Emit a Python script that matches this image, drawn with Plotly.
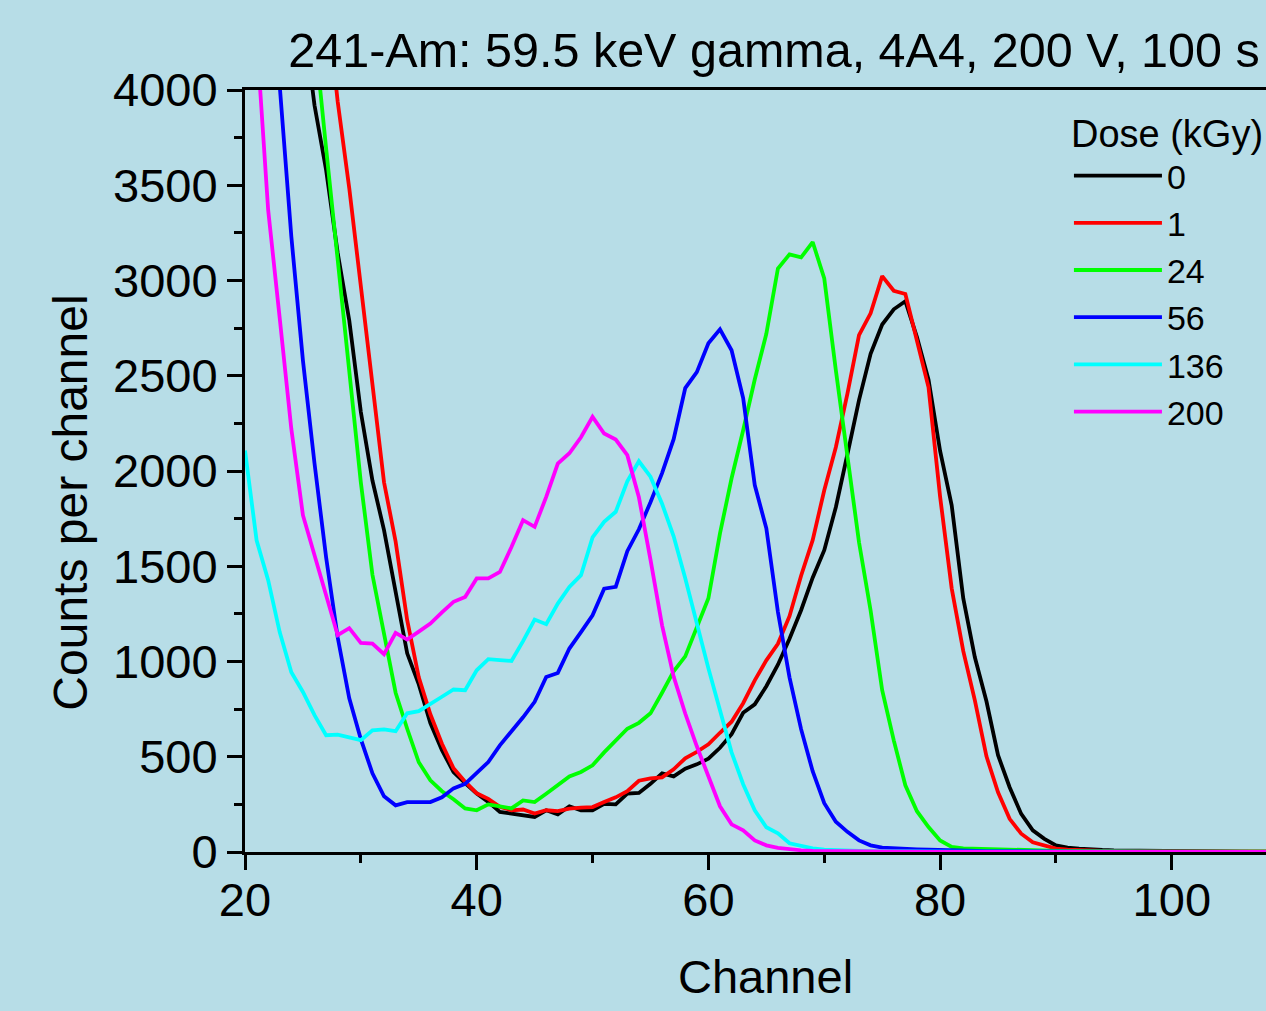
import plotly.graph_objects as go

# ---------------- data ----------------
channels = list(range(20, 111))
dose_labels = ["0", "1", "24", "56", "136", "200"]

counts_0kGy = [8400, 7400, 6500, 5700, 5000, 4400, 3920, 3580, 3145, 2790,
               2310, 1950, 1690, 1370, 1043, 880, 676, 534, 420, 361,
               307, 263, 210, 202, 193, 184, 219, 198, 240, 219,
               219, 253, 250, 306, 310, 358, 413, 397, 437, 460,
               490, 547, 618, 731, 775, 870, 983, 1119, 1269, 1440,
               1584, 1810, 2088, 2372, 2615, 2769, 2849, 2891, 2703, 2480,
               2105, 1820, 1331, 1022, 791, 508, 340, 200, 114, 69,
               35, 23, 18, 13, 11, 9, 8, 7, 6, 6,
               5, 4, 4, 3, 3, 3, 2, 2, 2, 2, 1]

counts_1kGy = [10500, 9600, 8700, 7800, 6900, 6000, 5200, 4500, 3940, 3484,
               2960, 2435, 1941, 1630, 1217, 917, 723, 568, 439, 369,
               308, 279, 237, 219, 223, 202, 219, 215, 228, 233,
               236, 262, 287, 319, 374, 387, 392, 434, 492, 526,
               565, 626, 684, 781, 901, 1006, 1093, 1238, 1450, 1637,
               1899, 2125, 2406, 2713, 2828, 3023, 2946, 2929, 2687, 2440,
               1865, 1384, 1054, 796, 502, 313, 174, 96, 51, 35,
               18, 12, 9, 7, 6, 5, 5, 4, 4, 3,
               3, 3, 2, 2, 2, 2, 2, 1, 1, 1, 1]

counts_24kGy = [10000, 8800, 7700, 6700, 5800, 5000, 4300, 3694, 3125, 2540,
                1940, 1455, 1135, 836, 647, 471, 376, 319, 277, 229,
                219, 250, 240, 229, 271, 262, 306, 350, 397, 420,
                455, 523, 586, 647, 678, 728, 836, 949, 1027, 1174,
                1332, 1672, 1962, 2214, 2480, 2720, 3063, 3137, 3121, 3202,
                3011, 2529, 2082, 1626, 1268, 849, 586, 350, 214, 131,
                61, 27, 19, 17, 15, 13, 11, 10, 8, 7,
                6, 5, 5, 4, 4, 3, 3, 3, 2, 2,
                2, 2, 2, 1, 1, 1, 1, 1, 1, 1, 1]

counts_56kGy = [7800, 6500, 5200, 4020, 3230, 2580, 2040, 1547, 1127, 807,
                592, 413, 292, 245, 262, 262, 262, 287, 334, 358,
                413, 472, 560, 633, 707, 788, 919, 940, 1068, 1154,
                1243, 1382, 1392, 1579, 1694, 1836, 1989, 2167, 2435, 2519,
                2671, 2744, 2634, 2383, 1926, 1699, 1260, 917, 645, 424,
                256, 159, 106, 61, 35, 23, 19, 14, 14, 12,
                10, 8, 7, 6, 5, 5, 4, 4, 3, 3,
                3, 2, 2, 2, 2, 2, 1, 1, 1, 1,
                1, 1, 1, 1, 1, 1, 1, 1, 1, 1, 1]

counts_136kGy = [2108, 1636, 1427, 1153, 944, 840, 718, 613, 616, 604,
                 587, 639, 644, 634, 728, 739, 775, 815, 853, 849,
                 954, 1012, 1007, 1003, 1107, 1220, 1196, 1304, 1391, 1453,
                 1651, 1733, 1786, 1946, 2051, 1970, 1828, 1657, 1437, 1199,
                 964, 744, 523, 356, 219, 130, 98, 46, 30, 19,
                 12, 9, 7, 6, 5, 4, 4, 3, 3, 3,
                 2, 2, 2, 2, 2, 1, 1, 1, 1, 1,
                 1, 1, 1, 1, 1, 1, 1, 1, 1, 1,
                 1, 1, 1, 1, 1, 1, 1, 1, 1, 1, 1]

counts_200kGy = [5200, 4260, 3370, 2800, 2220, 1768, 1555, 1337, 1138, 1175,
                 1097, 1094, 1038, 1150, 1115, 1157, 1199, 1258, 1313, 1339,
                 1436, 1436, 1470, 1601, 1742, 1707, 1864, 2039, 2093, 2177,
                 2284, 2197, 2165, 2083, 1862, 1535, 1190, 921, 727, 555,
                 397, 240, 145, 114, 61, 35, 22, 14, 9, 6,
                 5, 4, 3, 3, 2, 2, 2, 2, 1, 1,
                 1, 1, 1, 1, 1, 1, 1, 1, 1, 1,
                 1, 1, 1, 1, 1, 1, 1, 1, 1, 1,
                 1, 1, 1, 1, 1, 1, 1, 1, 1, 1, 1]

x_ticks = [20, 40, 60, 80, 100]
y_ticks = [0, 500, 1000, 1500, 2000, 2500, 3000, 3500, 4000]

# ---------------- style ----------------
series = [counts_0kGy, counts_1kGy, counts_24kGy, counts_56kGy, counts_136kGy, counts_200kGy]
colors = ["#000000", "#FF0000", "#00FF00", "#0000FF", "#00FFFF", "#FF00FF"]
BG = "rgb(183,221,231)"
FONT = "Arial, 'Liberation Sans', sans-serif"

fig = go.Figure()
for label, ys, col in zip(dose_labels, series, colors):
    fig.add_trace(go.Scatter(x=channels, y=ys, mode="lines", name=label,
                             line=dict(color=col, width=3.8)))

fig.update_layout(
    width=1266, height=1011,
    margin=dict(l=245, r=0, t=90, b=159, autoexpand=False),
    paper_bgcolor=BG, plot_bgcolor=BG,
    font=dict(family=FONT, size=47, color="black"),
    title=dict(text="241-Am: 59.5 keV gamma, 4A4, 200 V, 100 s",
               xref="container", x=774 / 1266, xanchor="center",
               yref="container", y=1 - 50 / 1011, yanchor="middle",
               font=dict(family=FONT, size=48.5, color="black")),
    showlegend=True,
    legend=dict(title=dict(text="Dose (kGy)", font=dict(family=FONT, size=38)),
                font=dict(family=FONT, size=34, color="black"),
                x=0.807, y=0.99, xanchor="left", yanchor="top",
                bgcolor="rgba(0,0,0,0)", borderwidth=0, itemwidth=88),
    annotations=[
        dict(text="Counts per channel", textangle=-90, showarrow=False,
             xref="paper", yref="paper", x=-0.171, y=0.459,
             xanchor="center", yanchor="middle",
             font=dict(family=FONT, size=48, color="black")),
        dict(text="Channel", showarrow=False,
             xref="paper", yref="paper", x=0.51, y=-0.163,
             xanchor="center", yanchor="middle",
             font=dict(family=FONT, size=47, color="black")),
    ],
)

fig.update_xaxes(
    range=[20, 108.13], tickmode="array", tickvals=x_ticks,
    showline=True, linecolor="black", linewidth=3, mirror=True,
    ticks="outside", ticklen=15, tickwidth=3, tickcolor="black",
    showgrid=False, zeroline=False, ticklabelstandoff=-10,
    tickfont=dict(family=FONT, size=47),
    minor=dict(dtick=10, tick0=20, ticks="outside", ticklen=8, tickwidth=3,
               tickcolor="black", showgrid=False),
)
fig.update_yaxes(
    range=[0, 4000], tickmode="array", tickvals=y_ticks,
    showline=True, linecolor="black", linewidth=3, mirror=False,
    ticks="outside", ticklen=15, tickwidth=3, tickcolor="black",
    showgrid=False, zeroline=False,
    tickfont=dict(family=FONT, size=47),
    minor=dict(dtick=250, tick0=0, ticks="outside", ticklen=8, tickwidth=3,
               tickcolor="black", showgrid=False),
)

fig.write_html("out.html")
